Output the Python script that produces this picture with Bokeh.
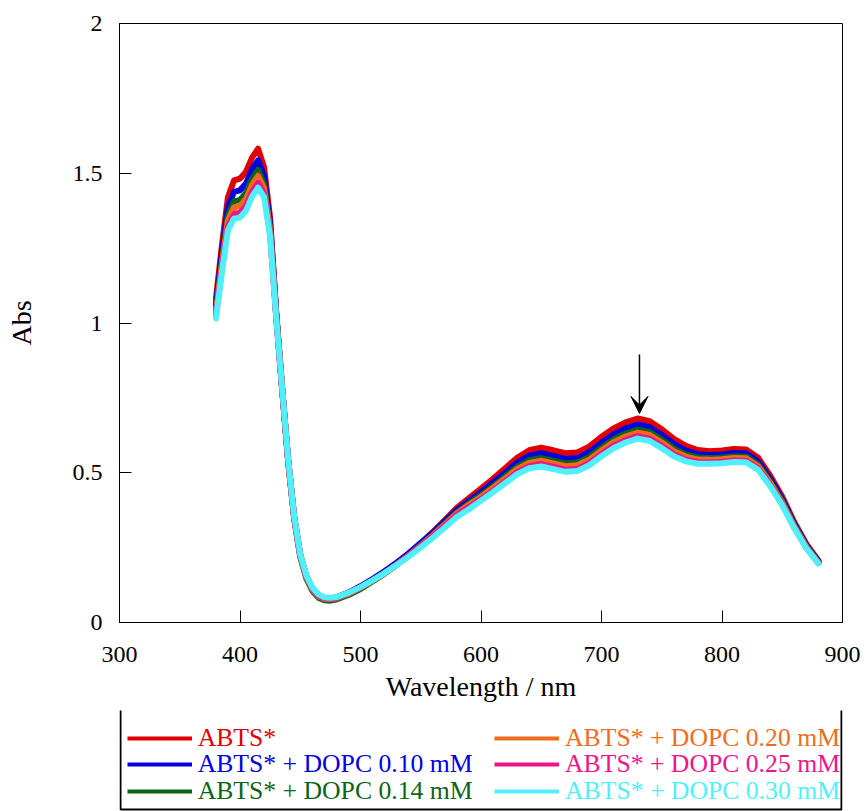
from bokeh.plotting import figure
from bokeh.models import (Range1d, FixedTicker, NumeralTickFormatter, Arrow, VeeHead,
                          Legend, LegendItem, BoxAnnotation)
from bokeh.core.properties import value
from bokeh.layouts import column
from bokeh.embed import file_html
from bokeh.resources import INLINE

# ---------------- data ----------------
wavelength = [380, 385, 390, 395, 400, 405, 410, 415, 420, 425, 430, 435, 440, 445, 450,
              455, 460, 465, 470, 475, 480, 490, 500, 510, 520, 530, 540, 550, 560, 570,
              580, 590, 600, 610, 620, 630, 640, 650, 660, 670, 680, 690, 700, 710, 720,
              730, 740, 750, 760, 770, 780, 790, 800, 810, 820, 830, 840, 850, 860, 870, 880]

abts = [1.080, 1.260, 1.420, 1.476, 1.482, 1.505, 1.552, 1.582, 1.520, 1.350, 1.040, 0.780,
        0.540, 0.350, 0.225, 0.155, 0.115, 0.092, 0.082, 0.080, 0.083, 0.098, 0.118, 0.142,
        0.168, 0.198, 0.230, 0.265, 0.302, 0.342, 0.383, 0.415, 0.447, 0.480, 0.515, 0.550,
        0.575, 0.584, 0.575, 0.565, 0.568, 0.588, 0.620, 0.648, 0.668, 0.681, 0.672, 0.645,
        0.613, 0.590, 0.576, 0.572, 0.574, 0.579, 0.578, 0.550, 0.490, 0.420, 0.335, 0.262, 0.207]

dopc_010 = [1.060, 1.233, 1.387, 1.438, 1.443, 1.466, 1.513, 1.543, 1.490, 1.332, 1.034, 0.782,
            0.542, 0.352, 0.226, 0.155, 0.114, 0.091, 0.081, 0.080, 0.084, 0.100, 0.121, 0.145,
            0.171, 0.200, 0.231, 0.265, 0.300, 0.338, 0.376, 0.406, 0.435, 0.467, 0.500, 0.534,
            0.557, 0.565, 0.556, 0.546, 0.549, 0.569, 0.600, 0.628, 0.648, 0.661, 0.652, 0.626,
            0.596, 0.574, 0.562, 0.559, 0.561, 0.566, 0.565, 0.538, 0.480, 0.412, 0.329, 0.258, 0.204]

dopc_014 = [1.044, 1.211, 1.360, 1.406, 1.411, 1.434, 1.481, 1.511, 1.465, 1.317, 1.029, 0.776,
            0.535, 0.344, 0.218, 0.147, 0.106, 0.083, 0.074, 0.073, 0.077, 0.092, 0.112, 0.137,
            0.163, 0.192, 0.223, 0.257, 0.292, 0.330, 0.368, 0.398, 0.425, 0.455, 0.488, 0.520,
            0.542, 0.549, 0.540, 0.531, 0.534, 0.553, 0.584, 0.612, 0.631, 0.644, 0.636, 0.610,
            0.581, 0.561, 0.551, 0.549, 0.551, 0.555, 0.554, 0.528, 0.471, 0.405, 0.324, 0.254, 0.202]

dopc_020 = [1.034, 1.197, 1.343, 1.386, 1.391, 1.414, 1.461, 1.491, 1.450, 1.308, 1.026, 0.778,
            0.538, 0.348, 0.222, 0.152, 0.111, 0.088, 0.079, 0.078, 0.081, 0.096, 0.116, 0.140,
            0.165, 0.194, 0.224, 0.257, 0.291, 0.327, 0.364, 0.393, 0.419, 0.449, 0.480, 0.512,
            0.533, 0.540, 0.531, 0.522, 0.525, 0.544, 0.574, 0.602, 0.621, 0.634, 0.626, 0.601,
            0.572, 0.554, 0.544, 0.543, 0.545, 0.549, 0.548, 0.522, 0.466, 0.400, 0.321, 0.252, 0.200]

dopc_025 = [1.023, 1.181, 1.323, 1.363, 1.368, 1.391, 1.438, 1.468, 1.432, 1.297, 1.022, 0.779,
            0.540, 0.350, 0.224, 0.154, 0.113, 0.090, 0.081, 0.080, 0.083, 0.098, 0.117, 0.141,
            0.166, 0.194, 0.223, 0.255, 0.288, 0.323, 0.359, 0.386, 0.412, 0.440, 0.471, 0.502,
            0.522, 0.529, 0.520, 0.510, 0.513, 0.533, 0.563, 0.590, 0.609, 0.622, 0.614, 0.590,
            0.562, 0.544, 0.536, 0.535, 0.537, 0.541, 0.540, 0.515, 0.459, 0.395, 0.317, 0.250, 0.198]

dopc_030 = [1.015, 1.170, 1.310, 1.348, 1.352, 1.375, 1.422, 1.452, 1.420, 1.290, 1.020, 0.781,
            0.543, 0.353, 0.228, 0.158, 0.117, 0.094, 0.084, 0.083, 0.085, 0.099, 0.118, 0.141,
            0.165, 0.192, 0.220, 0.251, 0.283, 0.317, 0.352, 0.378, 0.407, 0.435, 0.465, 0.495,
            0.515, 0.521, 0.512, 0.503, 0.506, 0.525, 0.555, 0.582, 0.601, 0.614, 0.606, 0.582,
            0.555, 0.538, 0.530, 0.530, 0.532, 0.536, 0.535, 0.510, 0.455, 0.392, 0.315, 0.248, 0.197]

series_labels = ["ABTS*", "ABTS* + DOPC 0.10 mM", "ABTS* + DOPC 0.14 mM",
                 "ABTS* + DOPC 0.20 mM", "ABTS* + DOPC 0.25 mM", "ABTS* + DOPC 0.30 mM"]
series_values = [abts, dopc_010, dopc_014, dopc_020, dopc_025, dopc_030]
series_colors = ["#e00000", "#0000e0", "#0c6418", "#f06c1c", "#f0148c", "#50f0fa"]

x_ticks = [300, 400, 500, 600, 700, 800, 900]
y_ticks = [0, 0.5, 1, 1.5, 2]

arrow_x = 731.5
arrow_top = 0.895
arrow_tip = 0.698

FONT = "Liberation Serif"

# ---------------- main plot ----------------
p = figure(width=866, height=710, x_range=Range1d(300, 900), y_range=Range1d(0, 2),
           output_backend="svg", toolbar_location=None,
           min_border_left=119, min_border_right=24, min_border_top=23, min_border_bottom=88)
p.xgrid.visible = False
p.ygrid.visible = False
p.outline_line_color = "black"
p.outline_line_alpha = 1
p.outline_line_width = 1

for ax in (p.xaxis[0], p.yaxis[0]):
    ax.major_tick_in = 12
    ax.major_tick_out = 0
    ax.minor_tick_line_color = None
    ax.axis_line_color = "black"
    ax.major_tick_line_color = "black"
    ax.major_label_text_font = FONT
    ax.major_label_text_font_size = "24px"
    ax.major_label_text_color = "black"
    ax.axis_label_text_font = FONT
    ax.axis_label_text_font_size = "28px"
    ax.axis_label_text_font_style = "normal"
    ax.axis_label_text_color = "black"

p.xaxis.ticker = FixedTicker(ticks=x_ticks)
p.yaxis.ticker = FixedTicker(ticks=y_ticks)
p.yaxis.formatter = NumeralTickFormatter(format="0.[0]")
p.xaxis.axis_label = "Wavelength / nm"
p.yaxis.axis_label = "Abs"
p.xaxis.major_label_standoff = 24
p.xaxis.axis_label_standoff = 6
p.yaxis.major_label_standoff = 17
p.yaxis.axis_label_standoff = 33

for ys, c in zip(series_values, series_colors):
    p.line(wavelength, ys, line_color=c, line_width=6, line_join="round", line_cap="round")

p.add_layout(Arrow(end=VeeHead(size=17, fill_color="black", line_color="black", line_width=1),
                   x_start=arrow_x, y_start=arrow_top, x_end=arrow_x, y_end=arrow_tip,
                   line_color="black", line_width=1.5))

# ---------------- legend panel (frame aligned with the plot above) ----------------
lp = figure(width=866, height=101, x_range=Range1d(0, 1), y_range=Range1d(0, 1),
            x_axis_type=None, y_axis_type=None, output_backend="svg", toolbar_location=None,
            min_border_left=0, min_border_right=0, min_border_top=0, min_border_bottom=0)
lp.outline_line_color = None
lp.add_layout(BoxAnnotation(left=1, right=722, top=2, bottom=120,
                            left_units="screen", right_units="screen",
                            top_units="screen", bottom_units="screen",
                            fill_color=None, fill_alpha=0, line_color="black",
                            line_width=2, line_alpha=1))

slots = [(7.7, 58.3), (7.7, 31.7), (7.7, 5.0), (375, 58.3), (375, 31.7), (375, 5.0)]
for lab, ys, c, loc in zip(series_labels, series_values, series_colors, slots):
    # same series drawn in the legend panel; its data lie outside this panel's range,
    # so only the legend sample line is visible
    r = lp.line(wavelength, ys, line_color=c, line_width=4)
    lg = Legend(items=[LegendItem(label=value(lab), renderers=[r])], location=loc,
                padding=0, margin=0, spacing=0, border_line_color=None,
                background_fill_alpha=0, glyph_width=65, glyph_height=20,
                label_standoff=6, label_height=27, label_text_font=FONT,
                label_text_font_size="25.7px", label_text_color=c,
                label_text_font_style="normal")
    lp.add_layout(lg, "center")

layout = column(p, lp, spacing=0)
open("out.html", "w").write(file_html(layout, INLINE))
